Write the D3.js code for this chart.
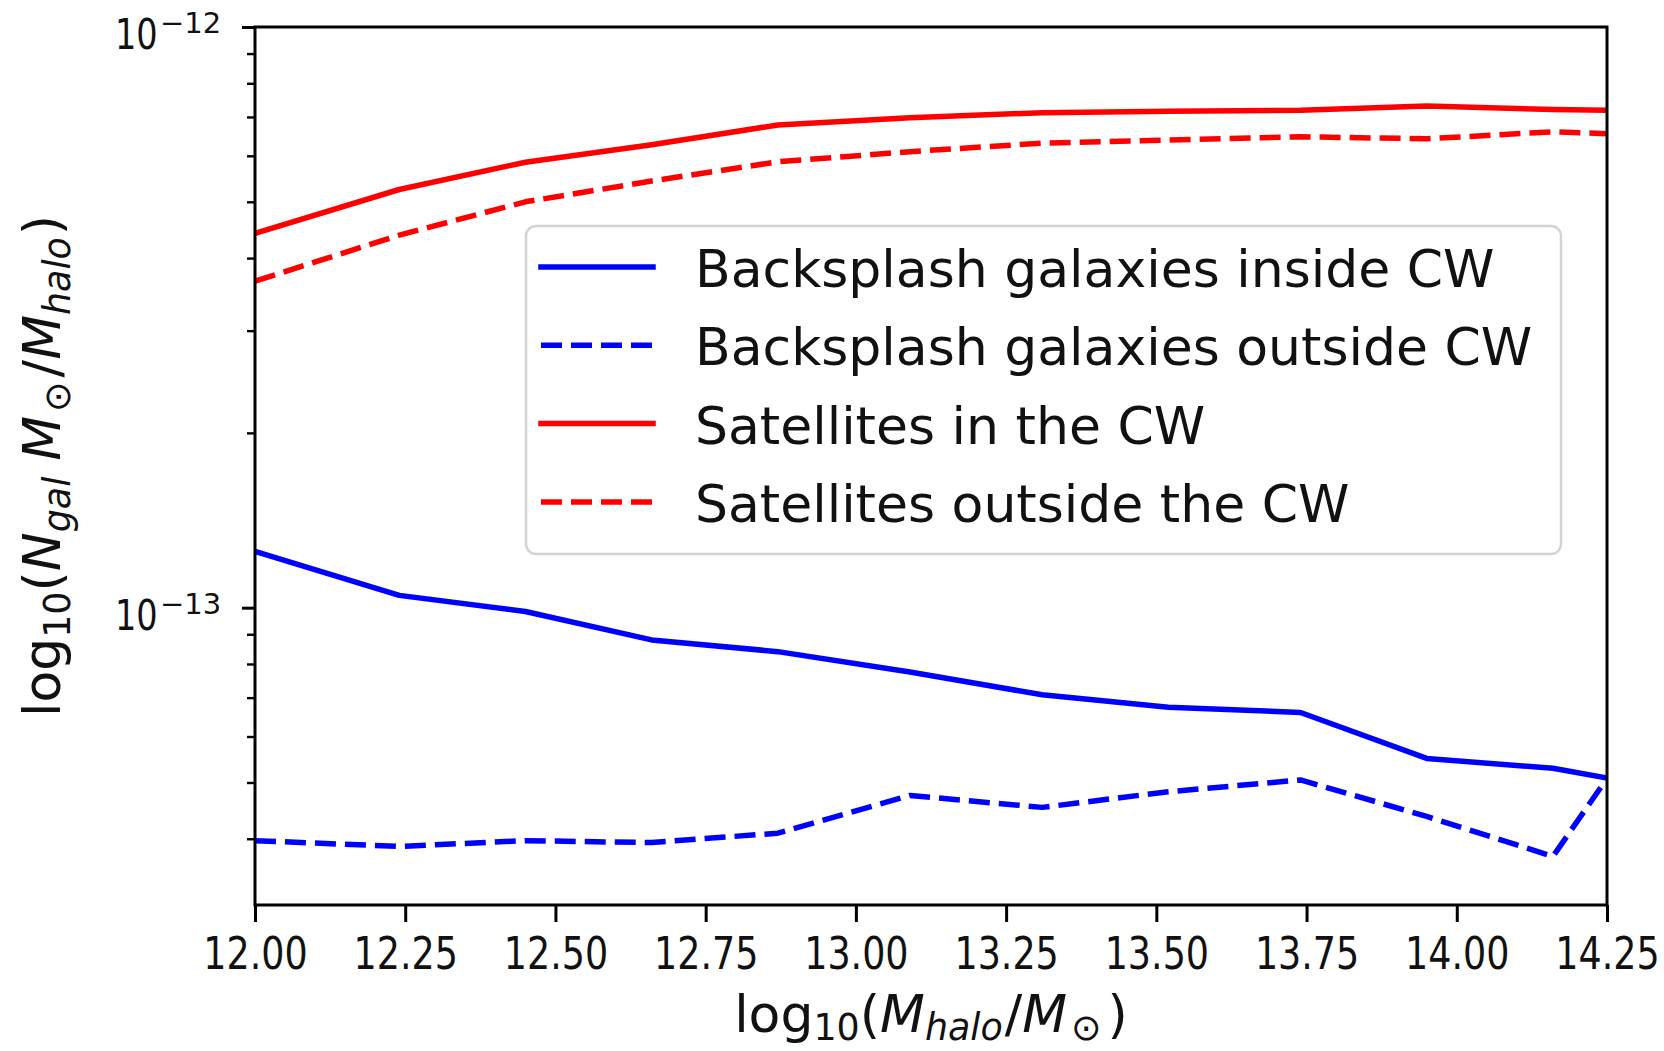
<!DOCTYPE html>
<html>
<head>
<meta charset="utf-8">
<script src="https://cdn.jsdelivr.net/npm/d3@7/dist/d3.min.js"></script>
<style>
  html, body { margin: 0; padding: 0; background: #ffffff; }
  svg { display: block; }
  text { font-family: "DejaVu Sans", sans-serif; fill: #111; }
</style>
</head>
<body>
<svg id="chart" width="1664" height="1051"></svg>
<script>
// log10 of halo mass (bin positions)
const haloMass = [12.00, 12.24, 12.45, 12.66, 12.87, 13.09, 13.31, 13.52, 13.74, 13.95, 14.16, 14.25];

// number of galaxies per solar mass of halo
const backsplashInside  = [1.25e-13, 1.05e-13, 9.85e-14, 8.8e-14, 8.4e-14, 7.75e-14, 7.08e-14, 6.74e-14, 6.6e-14, 5.5e-14, 5.29e-14, 5.09e-14];
const backsplashOutside = [3.97e-14, 3.88e-14, 3.97e-14, 3.94e-14, 4.09e-14, 4.75e-14, 4.53e-14, 4.82e-14, 5.05e-14, 4.37e-14, 3.73e-14, 5.08e-14];
const satellitesIn      = [4.41e-13, 5.25e-13, 5.85e-13, 6.27e-13, 6.78e-13, 6.98e-13, 7.12e-13, 7.16e-13, 7.19e-13, 7.31e-13, 7.21e-13, 7.19e-13];
const satellitesOut     = [3.65e-13, 4.38e-13, 5.0e-13, 5.43e-13, 5.86e-13, 6.1e-13, 6.31e-13, 6.39e-13, 6.47e-13, 6.42e-13, 6.6e-13, 6.55e-13];

const seriesNames = [
  "Backsplash galaxies inside CW",
  "Backsplash galaxies outside CW",
  "Satellites in the CW",
  "Satellites outside the CW"
];

const xTickValues = [12.00, 12.25, 12.50, 12.75, 13.00, 13.25, 13.50, 13.75, 14.00, 14.25];
const yMajorTicks = [1e-13, 1e-12];
const yMajorExponents = ["\u221213", "\u221212"];
const yMinorTicks = [4e-14, 5e-14, 6e-14, 7e-14, 8e-14, 9e-14,
                     2e-13, 3e-13, 4e-13, 5e-13, 6e-13, 7e-13, 8e-13, 9e-13];

// ---- layout ----
const plot = { left: 255, right: 1607, top: 27, bottom: 905 };

const svg = d3.select("#chart");

const x = d3.scaleLinear().domain([12, 14.25]).range([plot.left, plot.right]);
const y = d3.scaleLog().domain([3.076e-14, 1e-12]).range([plot.bottom, plot.top]);

const series = [
  { name: seriesNames[0], values: backsplashInside,  color: "#0000ff", dashed: false },
  { name: seriesNames[1], values: backsplashOutside, color: "#0000ff", dashed: true },
  { name: seriesNames[2], values: satellitesIn,      color: "#ff0000", dashed: false },
  { name: seriesNames[3], values: satellitesOut,     color: "#ff0000", dashed: true }
];

const LW = 5.5;
const DASH = "21,9";

svg.append("defs").append("clipPath").attr("id", "plotClip")
  .append("rect")
  .attr("x", plot.left).attr("y", plot.top)
  .attr("width", plot.right - plot.left).attr("height", plot.bottom - plot.top);

// ---- data lines ----
const line = d3.line()
  .x(d => x(d[0]))
  .y(d => y(d[1]));

const linesG = svg.append("g").attr("clip-path", "url(#plotClip)");
series.forEach(s => {
  linesG.append("path")
    .datum(haloMass.map((m, i) => [m, s.values[i]]))
    .attr("d", line)
    .attr("fill", "none")
    .attr("stroke", s.color)
    .attr("stroke-width", LW)
    .attr("stroke-linejoin", "round")
    .attr("stroke-linecap", s.dashed ? "butt" : "square")
    .attr("stroke-dasharray", s.dashed ? DASH : null);
});

// ---- x axis ----
const xAxis = svg.append("g")
  .attr("transform", `translate(0,${plot.bottom})`)
  .call(d3.axisBottom(x).tickValues(xTickValues).tickSize(17).tickFormat(d3.format(".2f")));
xAxis.select(".domain").remove();
xAxis.selectAll(".tick line").attr("stroke", "#000").attr("stroke-width", 3);
xAxis.selectAll(".tick text")
  .attr("y", 64).attr("dy", 0)
  .attr("font-size", 45)
  .attr("font-family", "DejaVu Sans")
  .attr("fill", "#111")
  .attr("transform", "scale(0.81,1)");

// ---- y axis: major and minor ticks ----
const yAxisMajor = svg.append("g")
  .attr("transform", `translate(${plot.left},0)`)
  .call(d3.axisLeft(y).tickValues(yMajorTicks).tickSize(13).tickFormat(""));
yAxisMajor.select(".domain").remove();
yAxisMajor.selectAll(".tick line").attr("stroke", "#000").attr("stroke-width", 3);

const yAxisMinor = svg.append("g")
  .attr("transform", `translate(${plot.left},0)`)
  .call(d3.axisLeft(y).tickValues(yMinorTicks).tickSize(8).tickFormat(""));
yAxisMinor.select(".domain").remove();
yAxisMinor.selectAll(".tick line").attr("stroke", "#000").attr("stroke-width", 2.4);

// y tick labels as 10^exponent
yMajorTicks.forEach((v, i) => {
  const ty = y(v);
  svg.append("text")
    .attr("transform", `translate(${plot.left - 140},${ty + 22}) scale(0.78,1)`)
    .attr("font-size", 43)
    .text("10");
  svg.append("text")
    .attr("x", plot.left - 95)
    .attr("y", ty + 6)
    .attr("font-size", 29)
    .text(yMajorExponents[i]);
});

// ---- frame ----
svg.append("rect")
  .attr("x", plot.left).attr("y", plot.top)
  .attr("width", plot.right - plot.left).attr("height", plot.bottom - plot.top)
  .attr("fill", "none").attr("stroke", "#000").attr("stroke-width", 3);

// ---- math-style labels ----
function mathLabel(textSel, parts, size, subShift) {
  let inSub = false;
  const shift = subShift * size;
  parts.forEach(p => {
    const ts = textSel.append("tspan").text(p.t);
    const sub = !!p.sub;
    ts.attr("font-size", sub ? size * 0.7 : size);
    if (p.it) ts.attr("font-style", "italic");
    if (sub && !inSub) ts.attr("dy", shift);
    if (!sub && inSub) ts.attr("dy", -shift);
    if (p.dx) ts.attr("dx", p.dx);
    inSub = sub;
  });
}

const xLabel = svg.append("text")
  .attr("x", (plot.left + plot.right) / 2)
  .attr("y", 1032)
  .attr("text-anchor", "middle")
  .attr("font-size", 52);
mathLabel(xLabel, [
  { t: "log" }, { t: "10", sub: true }, { t: "(" },
  { t: "M", it: true }, { t: "halo", sub: true, it: true },
  { t: "/", dx: 2 }, { t: "M", it: true }, { t: "\u2299", sub: true, dx: 4 },
  { t: ")", dx: 6 }
], 52, 0.15);

const yLabel = svg.append("text")
  .attr("transform", `translate(60,${(plot.top + plot.bottom) / 2}) rotate(-90)`)
  .attr("text-anchor", "middle")
  .attr("font-size", 52);
mathLabel(yLabel, [
  { t: "log" }, { t: "10", sub: true }, { t: "(" },
  { t: "N", it: true }, { t: "gal", sub: true, it: true },
  { t: "M", it: true, dx: 16 }, { t: "\u2299", sub: true, dx: 4 },
  { t: "/", dx: 4 }, { t: "M", it: true }, { t: "halo", sub: true, it: true },
  { t: ")", dx: 2 }
], 52, 0.19);

// ---- legend ----
const legend = { x: 526, y: 226, w: 1035, h: 328, rowY: 267, rowStep: 78.3 };
const lg = svg.append("g");
lg.append("rect")
  .attr("x", legend.x).attr("y", legend.y)
  .attr("width", legend.w).attr("height", legend.h)
  .attr("rx", 10).attr("ry", 10)
  .attr("fill", "#ffffff").attr("fill-opacity", 0.8)
  .attr("stroke", "#d4d4d4").attr("stroke-width", 2.5);

series.forEach((s, i) => {
  const ry = legend.rowY + i * legend.rowStep;
  lg.append("line")
    .attr("x1", 541).attr("x2", 653)
    .attr("y1", ry).attr("y2", ry)
    .attr("stroke", s.color)
    .attr("stroke-width", LW)
    .attr("stroke-linecap", s.dashed ? "butt" : "square")
    .attr("stroke-dasharray", s.dashed ? DASH : null);
  lg.append("text")
    .attr("x", 695)
    .attr("y", ry + 20)
    .attr("font-size", 52)
    .text(s.name);
});
</script>
</body>
</html>
